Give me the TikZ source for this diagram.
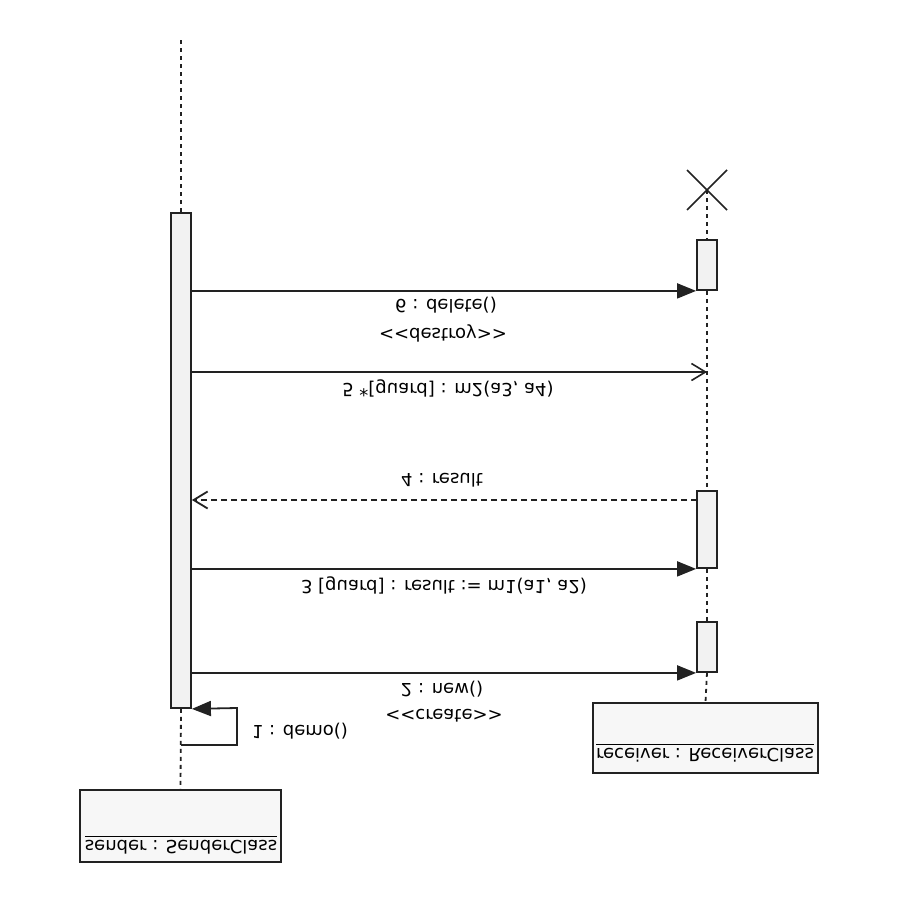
\documentclass[tikz,border=0pt]{standalone}
\usepackage{fontspec}
\setmainfont{DejaVu Sans}
\usetikzlibrary{arrows.meta}
\definecolor{ink}{HTML}{222222}
\definecolor{actfill}{HTML}{F2F2F2}
\definecolor{boxfill}{HTML}{F7F7F7}
\newcommand{\ulname}[1]{\underline{\smash{#1}\vphantom{y}}}
\tikzset{
  lbl/.style={yscale=-1, transform shape, inner sep=0pt, font=\fontsize{18}{21}\selectfont, text=black},
  act/.style={draw=ink, fill=actfill, line width=1.8pt, minimum width=20pt, inner sep=0pt},
  objbox/.style={draw=ink, fill=boxfill, line width=1.8pt, inner sep=0pt},
  life/.style={draw=ink, line width=1.8pt, dash pattern=on 4pt off 4pt},
  sync/.style={draw=ink, line width=1.8pt, -{Triangle[length=19pt,width=15pt]}},
  async/.style={draw=ink, line width=1.6pt, -{Straight Barb[length=14pt,width=17pt]}},
  ret/.style={draw=ink, line width=1.8pt, dash pattern=on 6pt off 4pt, -{Straight Barb[length=14pt,width=17pt]}}
}
\begin{document}
\begin{tikzpicture}[x=1pt,y=-1pt]
\path[use as bounding box, fill=white] (0,0) rectangle (900,900);
% activation bars and object boxes
\node[act, minimum height=495pt] (sact) at (181,460.5) {};
\node[act, minimum height=50pt] (ract1) at (707,265) {};
\node[act, minimum height=77pt] (ract2) at (707,529.5) {};
\node[act, minimum height=50pt] (ract3) at (707,647) {};
\node[objbox, minimum width=201pt, minimum height=72pt] (sender) at (180.5,826) {};
\node[objbox, minimum width=225pt, minimum height=70pt] (receiver) at (705.5,738) {};
\node[lbl] (sendername) at (181,843) {\ulname{sender : SenderClass}};
\node[lbl] (receivername) at (705,751) {\ulname{receiver : ReceiverClass}};
% lifelines
\coordinate (stop) at (181,40);
\coordinate (xend) at (707,190);
\draw[life] (stop) -- (sact.north);
\draw[life] (sact.south) -- (sender.north);
\draw[life] (xend) -- (ract1.north);
\draw[life] (ract1.south) -- (ract2.north);
\draw[life] (ract2.south) -- (ract3.north);
\draw[life] (ract3.south) -- (receiver.north);
% destruction mark
\draw[ink, line width=1.5pt] (xend) +(-20,-20) -- +(20,20);
\draw[ink, line width=1.5pt] (xend) +(20,-20) -- +(-20,20);
% messages
\coordinate (self) at (181,745);
\draw[sync] (self) -| (237,708) -- (sact.south east);
\node[lbl] (l1) at (300,731) {1 : demo()};
\draw[sync] (sact.east |- ract3.south) -- (ract3.south west);
\node[lbl] (l2) at (442,689) {2 : new()};
\node[lbl] (l2s) at (444,716) {<\kern0pt<create>\kern0pt>};
\draw[sync] (sact.east |- ract2.south) -- (ract2.south west);
\node[lbl] (l3) at (444,585) {3 [guard] : result := m1(a1, a2)};
\coordinate (r4) at (697,500);
\draw[ret] (r4) -- (sact.east |- r4);
\node[lbl] (l4) at (442,480) {4 : result};
\coordinate (r5) at (707,372);
\draw[async] (sact.east |- r5) -- (r5);
\node[lbl] (l5) at (448,388) {5 *[guard] : m2(a3, a4)};
\draw[sync] (sact.east |- ract1.south) -- (ract1.south west);
\node[lbl] (l6) at (446,305) {6 : delete()};
\node[lbl] (l6s) at (443,333) {<\kern0pt<destroy>\kern0pt>};
\end{tikzpicture}
\end{document}
